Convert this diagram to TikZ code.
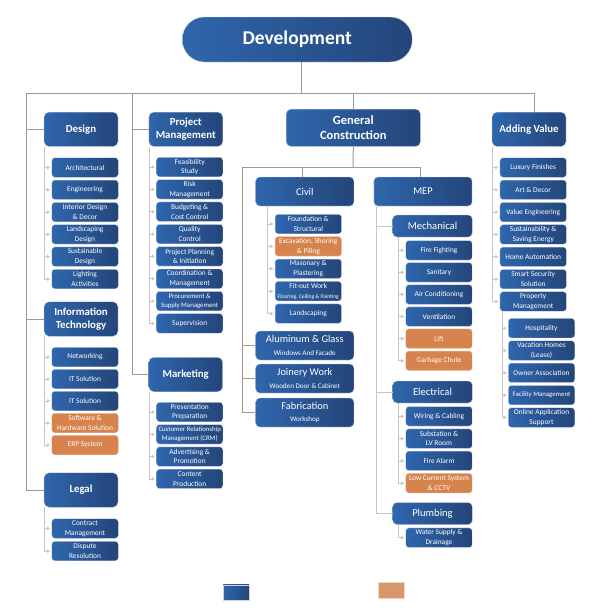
\documentclass[tikz,border=0pt]{standalone}
\usepackage{fontspec}
\setmainfont{Carlito}
\usetikzlibrary{arrows.meta}
\definecolor{deepblue}{RGB}{36,69,122}
\definecolor{lightblue}{RGB}{47,102,172}
\definecolor{burnt}{RGB}{214,131,77}
\definecolor{burntrim}{RGB}{235,200,175}
\definecolor{sand}{RGB}{216,151,106}
\definecolor{sandrim}{RGB}{240,215,195}
\definecolor{railgray}{RGB}{160,152,148}
\definecolor{twiggray}{RGB}{200,198,196}
\definecolor{rim}{RGB}{205,213,228}
\tikzset{
  box/.style={left color=lightblue, right color=deepblue, draw=rim, line width=0.4pt, text=white, align=center, inner sep=0pt},
  top/.style={box, rounded corners=22pt, minimum width=230pt, minimum height=45pt, font=\fontsize{19.5}{22}\selectfont\bfseries},
  head/.style={box, rounded corners=5pt, minimum width=74pt, minimum height=34.5pt, font=\fontsize{10.8}{13}\selectfont\bfseries},
  mid/.style={box, rounded corners=4pt, minimum width=98.3pt, minimum height=29pt, font=\fontsize{10.4}{12.3}\selectfont},
  sub/.style={box, rounded corners=4pt, minimum width=79.6pt, minimum height=22pt, font=\fontsize{10.6}{12}\selectfont},
  leaf/.style={box, rounded corners=3pt, minimum width=66.5pt, minimum height=19.5pt, font=\fontsize{7.4}{9.6}\selectfont},
  tightleaf/.style={leaf, font=\fontsize{6.8}{9.6}\selectfont},
  hotleaf/.style={leaf, left color=burnt, right color=burnt, draw=burntrim},
  rail/.style={draw=railgray, line width=1pt},
  bus/.style={draw=twiggray, line width=1pt},
  twig/.style={draw=twiggray, line width=0.8pt, -{Triangle[length=3pt,width=3.5pt]}, shorten >=1.5pt},
}
\begin{document}
\begin{tikzpicture}[x=1pt,y=-1pt]
    \useasboundingbox (0,0) rectangle (595,611);
    % top level
    \node[top] (dev) at (297.3,39.5) {Development};
    \node[head] (design) at (81,129.3) {Design};
    \node[head] (pm) at (185.8,129.3) {Project\\Management};
    \node[head, minimum width=134.5pt, minimum height=37.5pt, font=\fontsize{12.5}{15.3}\selectfont\bfseries] (gc) at (353.3,127.8) {General\\Construction};
    \node[head] (av) at (529,129.3) {Adding Value};
    \node[head] (it) at (81,319) {Information\\Technology};
    \node[head] (legal) at (81,490) {Legal};
    \node[head] (mkt) at (185.7,374.5) {Marketing};
    \coordinate (hub) at (301.5,93);
    \draw[rail] ([xshift=4.2pt]dev.south) -- (hub);
    \draw[rail] (hub) -| ([xshift=-17pt]legal.west) -- (legal.west);
    \draw[rail] ([xshift=-17pt]design.west) -- (design.west);
    \draw[rail] ([xshift=-17pt]it.west) -- (it.west);
    \draw[rail] (hub) -| ([xshift=-16.5pt]mkt.west) -- (mkt.west);
    \draw[rail] ([xshift=-16.5pt]pm.west) -- (pm.west);
    \draw[rail] (hub) -| (gc.north);
    \draw[rail] (hub) -| ([xshift=5.5pt]av.north);
    % design
    \foreach \t/\s [count=\i] in {Architectural/leaf, Engineering/leaf, Interior Design\\\& Decor/leaf, Landscaping\\Design/leaf, Sustainable\\Design/leaf, Lighting\\Activities/leaf} {
        \node[\s] (ds\i) at (85,{167.5+22.3*(\i-1)}) {\t};
        \draw[twig] ([xshift=0.8pt]design.south west) |- (ds\i.west);
    }
    % project management
    \foreach \t/\s [count=\i] in {Feasibility\\Study/leaf, Risk\\Management/leaf, Budgeting \&\\Cost Control/leaf, Quality\\Control/leaf, Project Planning\\\& Initiation/leaf, Coordination \&\\Management/leaf, Procurement \&\\Supply Management/tightleaf, Supervision/leaf} {
        \node[\s] (pm\i) at (189.7,{167+22.35*(\i-1)}) {\t};
        \draw[twig] ([xshift=0.5pt]pm.south west) |- (pm\i.west);
    }
    % marketing
    \foreach \t/\s [count=\i] in {Presentation\\Preparation/leaf, Customer Relationship\\Management (CRM)/tightleaf, Advertising \&\\Promotion/leaf, Content\\Production/leaf} {
        \node[\s] (mk\i) at (189.7,{412+22.3*(\i-1)}) {\t};
        \draw[twig] ([xshift=0.5pt]mkt.south west) |- (mk\i.west);
    }
    % information technology
    \foreach \t/\s [count=\i] in {Networking/leaf, IT Solution/leaf, IT Solution/leaf, Software \&\\Hardware Solution/hotleaf, ERP System/hotleaf} {
        \node[\s] (it\i) at (85,{357+22*(\i-1)}) {\t};
        \draw[twig] ([xshift=0.5pt]it.south west) |- (it\i.west);
    }
    % legal
    \foreach \t/\s [count=\i] in {Contract\\Management/leaf, Dispute\\Resolution/leaf} {
        \node[\s] (lg\i) at (85,{528.5+22.5*(\i-1)}) {\t};
        \draw[twig] ([xshift=0.5pt]legal.south west) |- (lg\i.west);
    }
    % general construction
    \node[mid] (civil) at (304.8,191.5) {Civil};
    \node[mid] (mep) at (423,191.5) {MEP};
    \node[mid] (alu) at (304.8,345.5) {Aluminum \& Glass\\{\fontsize{7.1}{8}\selectfont Windows And Facade}};
    \node[mid] (joinery) at (304.8,378.5) {Joinery Work\\{\fontsize{7.1}{8}\selectfont Wooden Door \& Cabinet}};
    \node[mid] (fab) at (304.8,412.5) {Fabrication\\{\fontsize{7.1}{8}\selectfont Workshop}};
    \coordinate (split) at (353,167);
    \draw[rail] (gc.south) -- (split);
    \draw[rail] (split) -| ([xshift=-2.5pt]civil.north);
    \draw[rail] (split) -| ([xshift=-2.3pt]mep.north);
    \draw[rail] (split) -| ([xshift=-13pt]fab.west) -- (fab.west);
    \draw[rail] ([xshift=-13pt]alu.west) -- (alu.west);
    \draw[rail] ([xshift=-13pt]joinery.west) -- (joinery.west);
    \foreach \t/\s [count=\i] in {Foundation \&\\Structural/leaf, Excavation{,} Shoring\\\& Piling/hotleaf, Masonary \&\\Plastering/leaf, Fit-out Work\\{\fontsize{5.6}{7}\selectfont Flooring{,} Ceiling \& Painting}/leaf, Landscaping/leaf} {
        \node[\s] (cv\i) at (308.3,{224+22.4*(\i-1)}) {\t};
        \draw[twig] ([xshift=12pt]civil.south west) |- (cv\i.west);
    }
    % mep
    \node[sub] (mech) at (432.5,226) {Mechanical};
    \node[sub] (elec) at (432.5,392) {Electrical};
    \node[sub] (plumb) at (432.5,513.5) {Plumbing};
    \foreach \n in {mech,elec,plumb} {
        \draw[bus] ([xshift=3pt]mep.south west) |- (\n.west);
    }
    \foreach \t/\s [count=\i] in {Fire Fighting/leaf, Sanitary/leaf, Air Conditioning/leaf, Ventilation/leaf, Lift/hotleaf, Garbage Chute/hotleaf} {
        \node[\s] (me\i) at (439,{250.3+22.1*(\i-1)}) {\t};
        \draw[twig] ([xshift=5.6pt]mech.south west) |- (me\i.west);
    }
    \foreach \t/\s [count=\i] in {Wiring \& Cabling/leaf, Substation \&\\LV Room/leaf, Fire Alarm/leaf, Low Current System\\\& CCTV/hotleaf} {
        \node[\s] (el\i) at (439,{416.3+22.3*(\i-1)}) {\t};
        \draw[twig] ([xshift=6.3pt]elec.south west) |- (el\i.west);
    }
    \node[leaf] (pl1) at (439,537.7) {Water Supply \&\\Drainage};
    \draw[twig] ([xshift=6.3pt]plumb.south west) |- (pl1.west);
    % adding value
    \foreach \t/\s [count=\i] in {Luxury Finishes/leaf, Art \& Decor/leaf, Value Engineering/leaf, Sustainability \&\\Saving Energy/leaf, Home Automation/leaf, Smart Security\\Solution/leaf, Property\\Management/leaf} {
        \node[\s] (av\i) at (533.2,{167.5+22.33*(\i-1)}) {\t};
        \draw[twig] ([xshift=0.7pt]av.south west) |- (av\i.west);
    }
    \foreach \t/\s [count=\i] in {Hospitality/leaf, Vacation Homes\\(Lease)/leaf, Owner Association/leaf, Facility Management/tightleaf, Online Application\\Support/leaf} {
        \node[\s] (pr\i) at (541.5,{328.2+22.33*(\i-1)}) {\t};
        \draw[twig] ([xshift=2.3pt]av7.south west) |- (pr\i.west);
    }
    % key
    \node[box, rounded corners=0pt, minimum width=26pt, minimum height=15.7pt] (keyblue) at (236,592.8) {};
    \node[draw=sandrim, fill=sand, minimum width=26.6pt, minimum height=16pt, inner sep=0pt] (keyorange) at (391,590) {};
\end{tikzpicture}
\end{document}
